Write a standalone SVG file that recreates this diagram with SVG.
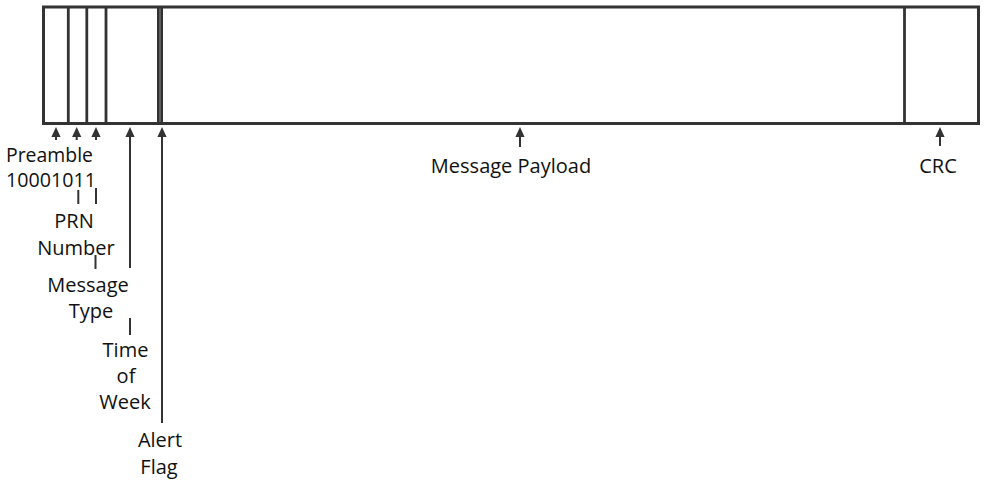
<svg xmlns="http://www.w3.org/2000/svg" xmlns:xlink="http://www.w3.org/1999/xlink" width="984" height="484" viewBox="0 0 984 484">
<style>
.frame{fill:none;stroke:#333;stroke-width:3}
.div{stroke:#333;stroke-width:2.8}
.lead{stroke:#333;stroke-width:2;fill:none}
.head{fill:#333}
text{font-family:"Open Sans","Liberation Sans",Arial,sans-serif;font-size:20px;fill:#111}
.c{text-anchor:middle}
</style>
<defs>
<path id="head" d="M0,0 L-4.6,10 L4.6,10 Z"/>
</defs>
<rect width="984" height="484" fill="#fff"/>
<g id="frame">
<rect class="frame" x="43.5" y="7" width="935" height="116.5"/>
</g>
<g id="preamble">
<line class="div" x1="68.3" y1="7" x2="68.3" y2="123.5"/>
<text x="6" y="161.5" textLength="87" lengthAdjust="spacingAndGlyphs">Preamble</text>
<text x="6" y="186.5" textLength="90" lengthAdjust="spacingAndGlyphs">10001011</text>
</g>
<g id="prn">
<line class="div" x1="86.8" y1="7" x2="86.8" y2="123.5"/>
<text class="c" x="74" y="228">PRN</text>
<text class="c" x="76" y="255">Number</text>
</g>
<g id="message-type">
<line class="div" x1="106" y1="7" x2="106" y2="123.5"/>
<text class="c" x="88" y="292">Message</text>
<text class="c" x="91" y="318">Type</text>
</g>
<g id="time-of-week">
<text class="c" x="125.5" y="357">Time</text>
<text class="c" x="126" y="383">of</text>
<text class="c" x="125" y="409">Week</text>
</g>
<g id="alert-flag">
<line class="div" x1="158.4" y1="7" x2="158.4" y2="123.5" stroke-width="2.6"/>
<line class="div" x1="161.6" y1="7" x2="161.6" y2="123.5" stroke-width="2.6"/>
<text class="c" x="160" y="447">Alert</text>
<text class="c" x="159" y="474">Flag</text>
</g>
<g id="message-payload">
<text class="c" x="511" y="173">Message Payload</text>
</g>
<g id="crc">
<line class="div" x1="904.5" y1="7" x2="904.5" y2="123.5"/>
<text class="c" x="938" y="173">CRC</text>
</g>
<g id="connectors">
<use href="#head" xlink:href="#head" class="head" x="56" y="127"/>
<line class="lead" x1="56" y1="136" x2="56" y2="140"/>
<use href="#head" xlink:href="#head" class="head" x="76.7" y="127"/>
<line class="lead" x1="76.7" y1="136" x2="76.7" y2="140"/>
<use href="#head" xlink:href="#head" class="head" x="96" y="127"/>
<line class="lead" x1="96" y1="136" x2="96" y2="140"/>
<use href="#head" xlink:href="#head" class="head" x="130" y="127"/>
<line class="lead" x1="130" y1="136" x2="130" y2="268"/>
<use href="#head" xlink:href="#head" class="head" x="162" y="127"/>
<line class="lead" x1="162" y1="136" x2="162" y2="423"/>
<use href="#head" xlink:href="#head" class="head" x="520" y="127"/>
<line class="lead" x1="520" y1="136" x2="520" y2="147"/>
<use href="#head" xlink:href="#head" class="head" x="940" y="127"/>
<line class="lead" x1="940" y1="136" x2="940" y2="146"/>
<line class="lead" x1="78.3" y1="190" x2="78.3" y2="204"/>
<line class="lead" x1="96" y1="188" x2="96" y2="204"/>
<line class="lead" x1="95.5" y1="255" x2="95.5" y2="269"/>
<line class="lead" x1="130" y1="318" x2="130" y2="335"/>
</g>
</svg>
